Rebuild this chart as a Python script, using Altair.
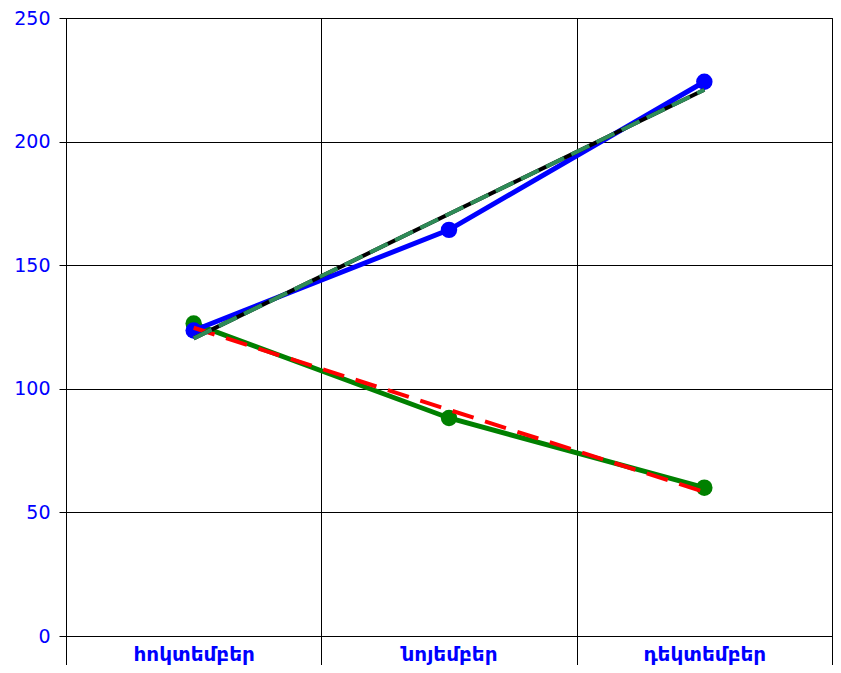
import altair as alt
import pandas as pd

months = ["հոկտեմբեր", "նոյեմբեր", "դեկտեմբեր"]
series_blue = [123.6, 164.3, 224.2]
series_green = [126.4, 88.2, 60.0]
trend_blue = [120.4, 170.7, 221.0]
trend_green = [124.7, 91.5, 58.3]
y_ticks = [0, 50, 100, 150, 200, 250]


def frame(vals):
    return pd.DataFrame({"month": months, "value": vals})


x = alt.X(
    "month:N",
    sort=months,
    bandPosition=0.5,
    scale=alt.Scale(type="band", paddingInner=0, paddingOuter=0),
    axis=alt.Axis(
        title=None,
        tickBand="extent",
        grid=True,
        tickSize=45,
        labelPadding=-37,
        labelAngle=0,
        labelFont="DejaVu Sans",
        labelFontSize=20,
        labelFontWeight="bold",
        labelColor="#0000FF",
        labelBaseline="top",
        labelAlign="center",
        domainColor="black",
        tickColor="black",
        gridColor="black",
    ),
)
y = alt.Y(
    "value:Q",
    scale=alt.Scale(domain=[0, 250], nice=False),
    axis=alt.Axis(
        title=None,
        values=y_ticks,
        tickSize=7,
        labelPadding=9,
        labelFont="DejaVu Sans",
        labelFontSize=19,
        labelColor="#0000FF",
        grid=True,
        gridColor="black",
        domainColor="black",
        tickColor="black",
    ),
)

green_line = alt.Chart(frame(series_green)).mark_line(color="#008000", strokeWidth=5).encode(x=x, y=y)
green_pts = alt.Chart(frame(series_green)).mark_circle(color="#008000", size=270, opacity=1).encode(x=x, y=y)
blue_line = alt.Chart(frame(series_blue)).mark_line(color="#0000FF", strokeWidth=5).encode(x=x, y=y)
blue_pts = alt.Chart(frame(series_blue)).mark_circle(color="#0000FF", size=270, opacity=1).encode(x=x, y=y)
red_trend = alt.Chart(frame(trend_green)).mark_line(color="#FF0000", strokeWidth=4, strokeDash=[22, 12]).encode(x=x, y=y)
black_trend = alt.Chart(frame(trend_blue)).mark_line(color="black", strokeWidth=4).encode(x=x, y=y)
sg_trend = alt.Chart(frame(trend_blue)).mark_line(color="#2E8B57", strokeWidth=4, strokeDash=[20, 8]).encode(x=x, y=y)

chart = (
    alt.layer(green_line, green_pts, blue_line, blue_pts, red_trend, black_trend, sg_trend)
    .properties(
        width=766,
        height=618,
        autosize=alt.AutoSizeParams(type="none"),
        padding={"left": 58, "top": 10, "right": 1, "bottom": 29},
    )
    .configure_view(stroke="black", strokeWidth=1)
    .configure_axis(gridOpacity=1, domainWidth=1, gridWidth=1)
)

chart.save("out.html", embed_options={"renderer": "svg", "actions": False})
